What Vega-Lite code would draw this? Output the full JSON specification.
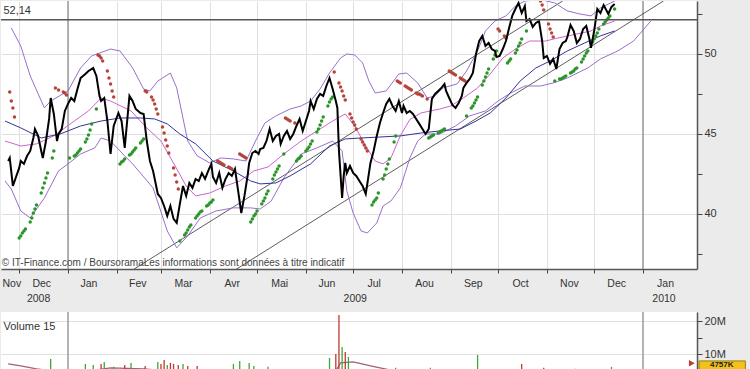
{
  "$schema": "https://vega.github.io/schema/vega-lite/v6.json",
  "background": "#ebebeb",
  "padding": {"left": 0, "top": 0, "right": 5, "bottom": 0},
  "spacing": 7,
  "config": {
    "view": {"stroke": null, "fill": "#ffffff"},
    "axis": {"labelFont": "Liberation Sans", "labelColor": "#333333", "title": null},
    "text": {"font": "Liberation Sans"}
  },
  "datasets": {
    "years": [{"d": "2009-01-01"}, {"d": "2010-01-01"}],
    "price": [
      {"d":"2008-11-24","v":43.31},{"d":"2008-11-25","v":43.5},{"d":"2008-11-27","v":41.75},{"d":"2008-12-01","v":42.88},
      {"d":"2008-12-02","v":43.31},{"d":"2008-12-04","v":43.13},{"d":"2008-12-06","v":43.62},{"d":"2008-12-08","v":43.94},
      {"d":"2008-12-10","v":44.75},{"d":"2008-12-11","v":45.31},{"d":"2008-12-13","v":44.88},{"d":"2008-12-15","v":43.94},
      {"d":"2008-12-16","v":43.5},{"d":"2008-12-18","v":44.56},{"d":"2008-12-20","v":45.94},{"d":"2008-12-21","v":47.25},
      {"d":"2008-12-23","v":46.25},{"d":"2008-12-25","v":44.56},{"d":"2008-12-26","v":45.0},{"d":"2008-12-28","v":45.31},
      {"d":"2008-12-30","v":46.44},{"d":"2009-01-01","v":46.88},{"d":"2009-01-03","v":47.25},{"d":"2009-01-05","v":47.06},
      {"d":"2009-01-07","v":47.81},{"d":"2009-01-09","v":48.5},{"d":"2009-01-12","v":48.75},{"d":"2009-01-14","v":48.94},
      {"d":"2009-01-17","v":49.12},{"d":"2009-01-19","v":48.63},{"d":"2009-01-21","v":47.38},{"d":"2009-01-22","v":47.06},
      {"d":"2009-01-24","v":47.25},{"d":"2009-01-26","v":45.81},{"d":"2009-01-28","v":43.75},{"d":"2009-01-30","v":45.5},
      {"d":"2009-02-02","v":46.31},{"d":"2009-02-04","v":45.81},{"d":"2009-02-06","v":44.13},{"d":"2009-02-09","v":47.38},
      {"d":"2009-02-11","v":47.06},{"d":"2009-02-13","v":46.56},{"d":"2009-02-16","v":46.31},{"d":"2009-02-18","v":46.25},
      {"d":"2009-02-20","v":44.56},{"d":"2009-02-22","v":43.31},{"d":"2009-02-24","v":42.69},{"d":"2009-02-27","v":41.25},
      {"d":"2009-03-01","v":41.0},{"d":"2009-03-03","v":40.5},{"d":"2009-03-05","v":39.88},{"d":"2009-03-07","v":40.5},
      {"d":"2009-03-09","v":39.69},{"d":"2009-03-11","v":39.44},{"d":"2009-03-13","v":40.63},{"d":"2009-03-15","v":41.75},
      {"d":"2009-03-17","v":41.13},{"d":"2009-03-19","v":41.94},{"d":"2009-03-21","v":41.63},{"d":"2009-03-23","v":42.19},
      {"d":"2009-03-25","v":42.06},{"d":"2009-03-27","v":42.56},{"d":"2009-03-29","v":42.19},{"d":"2009-03-31","v":42.69},
      {"d":"2009-04-02","v":43.13},{"d":"2009-04-03","v":42.31},{"d":"2009-04-05","v":41.94},{"d":"2009-04-07","v":42.56},
      {"d":"2009-04-09","v":41.63},{"d":"2009-04-11","v":42.19},{"d":"2009-04-13","v":42.56},{"d":"2009-04-15","v":42.38},
      {"d":"2009-04-17","v":42.81},{"d":"2009-04-19","v":41.44},{"d":"2009-04-21","v":40.06},{"d":"2009-04-23","v":41.13},
      {"d":"2009-04-25","v":42.38},{"d":"2009-04-26","v":43.19},{"d":"2009-04-28","v":43.81},{"d":"2009-04-30","v":43.94},
      {"d":"2009-05-02","v":43.75},{"d":"2009-05-03","v":44.06},{"d":"2009-05-05","v":44.13},{"d":"2009-05-07","v":44.56},
      {"d":"2009-05-09","v":45.31},{"d":"2009-05-11","v":44.56},{"d":"2009-05-13","v":44.88},{"d":"2009-05-15","v":45.0},
      {"d":"2009-05-16","v":44.38},{"d":"2009-05-18","v":44.88},{"d":"2009-05-20","v":45.19},{"d":"2009-05-22","v":44.69},
      {"d":"2009-05-24","v":45.0},{"d":"2009-05-26","v":45.5},{"d":"2009-05-28","v":45.94},{"d":"2009-05-30","v":45.19},
      {"d":"2009-06-01","v":45.81},{"d":"2009-06-03","v":46.44},{"d":"2009-06-04","v":47.06},{"d":"2009-06-06","v":46.56},
      {"d":"2009-06-08","v":47.19},{"d":"2009-06-10","v":47.5},{"d":"2009-06-12","v":47.38},{"d":"2009-06-14","v":48.0},
      {"d":"2009-06-16","v":48.5},{"d":"2009-06-18","v":47.81},{"d":"2009-06-20","v":47.06},{"d":"2009-06-21","v":46.63},
      {"d":"2009-06-22","v":43.94},{"d":"2009-06-24","v":41.0},{"d":"2009-06-25","v":42.38},{"d":"2009-06-26","v":43.19},
      {"d":"2009-06-27","v":42.56},{"d":"2009-06-29","v":43.0},{"d":"2009-07-01","v":42.56},{"d":"2009-07-03","v":42.38},
      {"d":"2009-07-05","v":42.06},{"d":"2009-07-07","v":41.75},{"d":"2009-07-09","v":41.25},{"d":"2009-07-10","v":41.88},
      {"d":"2009-07-12","v":43.19},{"d":"2009-07-14","v":43.94},{"d":"2009-07-16","v":44.88},{"d":"2009-07-18","v":45.69},
      {"d":"2009-07-20","v":46.31},{"d":"2009-07-22","v":46.88},{"d":"2009-07-24","v":47.19},{"d":"2009-07-26","v":46.75},
      {"d":"2009-07-28","v":46.44},{"d":"2009-07-30","v":47.06},{"d":"2009-08-01","v":46.31},{"d":"2009-08-02","v":46.75},
      {"d":"2009-08-04","v":46.31},{"d":"2009-08-06","v":46.44},{"d":"2009-08-08","v":46.25},{"d":"2009-08-10","v":45.94},
      {"d":"2009-08-12","v":45.63},{"d":"2009-08-14","v":45.31},{"d":"2009-08-16","v":45.0},{"d":"2009-08-18","v":45.31},
      {"d":"2009-08-20","v":47.19},{"d":"2009-08-22","v":47.5},{"d":"2009-08-24","v":47.69},{"d":"2009-08-26","v":47.88},
      {"d":"2009-08-28","v":48.13},{"d":"2009-08-29","v":47.69},{"d":"2009-08-31","v":47.25},{"d":"2009-09-02","v":46.81},
      {"d":"2009-09-04","v":46.63},{"d":"2009-09-06","v":46.94},{"d":"2009-09-08","v":47.38},{"d":"2009-09-09","v":47.88},
      {"d":"2009-09-11","v":48.19},{"d":"2009-09-13","v":48.44},{"d":"2009-09-15","v":48.81},{"d":"2009-09-17","v":50.0},
      {"d":"2009-09-19","v":50.81},{"d":"2009-09-21","v":51.13},{"d":"2009-09-23","v":50.5},{"d":"2009-09-25","v":50.69},
      {"d":"2009-09-27","v":50.31},{"d":"2009-09-29","v":50.19},{"d":"2009-09-30","v":49.81},{"d":"2009-10-02","v":49.88},
      {"d":"2009-10-04","v":50.31},{"d":"2009-10-06","v":50.81},{"d":"2009-10-08","v":51.63},{"d":"2009-10-10","v":52.38},
      {"d":"2009-10-12","v":52.81},{"d":"2009-10-14","v":53.19},{"d":"2009-10-16","v":52.56},{"d":"2009-10-18","v":53.0},
      {"d":"2009-10-19","v":52.06},{"d":"2009-10-21","v":52.19},{"d":"2009-10-23","v":51.69},{"d":"2009-10-25","v":51.94},
      {"d":"2009-10-27","v":52.06},{"d":"2009-10-29","v":50.81},{"d":"2009-10-30","v":49.75},{"d":"2009-11-01","v":49.88},
      {"d":"2009-11-03","v":49.38},{"d":"2009-11-05","v":49.69},{"d":"2009-11-07","v":49.06},{"d":"2009-11-09","v":50.31},
      {"d":"2009-11-11","v":50.69},{"d":"2009-11-13","v":50.81},{"d":"2009-11-14","v":51.06},{"d":"2009-11-16","v":51.81},
      {"d":"2009-11-18","v":51.44},{"d":"2009-11-20","v":50.69},{"d":"2009-11-22","v":50.94},{"d":"2009-11-24","v":51.56},
      {"d":"2009-11-26","v":51.75},{"d":"2009-11-28","v":50.94},{"d":"2009-11-29","v":50.38},{"d":"2009-12-01","v":51.44},
      {"d":"2009-12-03","v":52.81},{"d":"2009-12-05","v":52.56},{"d":"2009-12-07","v":53.06},{"d":"2009-12-09","v":52.69},
      {"d":"2009-12-10","v":52.5},{"d":"2009-12-12","v":52.94},{"d":"2009-12-14","v":53.13}
    ],
    "bands": [
      {"s":"up","d":"2008-11-26","v":51.63},{"s":"up","d":"2008-12-02","v":50.5},{"s":"up","d":"2008-12-08","v":48.63},{"s":"up","d":"2008-12-17","v":46.63},
      {"s":"up","d":"2008-12-21","v":47.06},{"s":"up","d":"2009-01-01","v":47.69},{"s":"up","d":"2009-01-09","v":49.13},{"s":"up","d":"2009-01-16","v":49.88},
      {"s":"up","d":"2009-01-28","v":50.31},{"s":"up","d":"2009-02-03","v":50.19},{"s":"up","d":"2009-02-11","v":49.13},{"s":"up","d":"2009-02-18","v":47.81},
      {"s":"up","d":"2009-02-22","v":47.69},{"s":"up","d":"2009-02-27","v":48.31},{"s":"up","d":"2009-03-07","v":48.81},{"s":"up","d":"2009-03-11","v":47.88},
      {"s":"up","d":"2009-03-18","v":44.56},{"s":"up","d":"2009-03-24","v":43.63},{"s":"up","d":"2009-04-01","v":43.19},{"s":"up","d":"2009-04-08","v":43.5},
      {"s":"up","d":"2009-04-16","v":43.44},{"s":"up","d":"2009-04-24","v":43.31},{"s":"up","d":"2009-04-30","v":44.56},{"s":"up","d":"2009-05-06","v":45.69},
      {"s":"up","d":"2009-05-13","v":46.13},{"s":"up","d":"2009-05-22","v":46.56},{"s":"up","d":"2009-05-29","v":46.75},{"s":"up","d":"2009-06-04","v":47.06},
      {"s":"up","d":"2009-06-10","v":47.81},{"s":"up","d":"2009-06-16","v":48.81},{"s":"up","d":"2009-06-23","v":49.75},{"s":"up","d":"2009-06-27","v":50.0},
      {"s":"up","d":"2009-07-02","v":49.94},{"s":"up","d":"2009-07-07","v":49.44},{"s":"up","d":"2009-07-11","v":48.31},{"s":"up","d":"2009-07-15","v":47.56},
      {"s":"up","d":"2009-07-22","v":47.69},{"s":"up","d":"2009-07-30","v":48.75},{"s":"up","d":"2009-08-04","v":48.81},{"s":"up","d":"2009-08-11","v":48.19},
      {"s":"up","d":"2009-08-17","v":47.25},{"s":"up","d":"2009-08-22","v":47.38},{"s":"up","d":"2009-08-27","v":47.88},{"s":"up","d":"2009-09-05","v":48.13},
      {"s":"up","d":"2009-09-11","v":48.94},{"s":"up","d":"2009-09-18","v":50.19},{"s":"up","d":"2009-09-23","v":51.44},{"s":"up","d":"2009-09-29","v":52.06},
      {"s":"up","d":"2009-10-06","v":52.38},{"s":"up","d":"2009-10-12","v":53.0},{"s":"up","d":"2009-10-18","v":53.31},{"s":"up","d":"2009-10-28","v":53.4},
      {"s":"up","d":"2009-11-06","v":53.19},{"s":"up","d":"2009-11-14","v":52.69},{"s":"up","d":"2009-11-22","v":52.5},{"s":"up","d":"2009-11-29","v":52.38},
      {"s":"up","d":"2009-12-05","v":52.88},{"s":"up","d":"2009-12-14","v":53.31},
      {"s":"lo","d":"2008-11-22","v":42.06},{"s":"lo","d":"2008-11-26","v":41.56},{"s":"lo","d":"2008-12-02","v":40.19},{"s":"lo","d":"2008-12-08","v":39.75},
      {"s":"lo","d":"2008-12-17","v":41.0},{"s":"lo","d":"2008-12-26","v":42.69},{"s":"lo","d":"2009-01-01","v":43.13},{"s":"lo","d":"2009-01-09","v":43.75},
      {"s":"lo","d":"2009-01-18","v":44.13},{"s":"lo","d":"2009-01-22","v":44.75},{"s":"lo","d":"2009-01-28","v":44.56},{"s":"lo","d":"2009-02-06","v":43.63},
      {"s":"lo","d":"2009-02-11","v":43.13},{"s":"lo","d":"2009-02-24","v":41.63},{"s":"lo","d":"2009-03-05","v":38.94},{"s":"lo","d":"2009-03-11","v":37.88},
      {"s":"lo","d":"2009-03-18","v":38.63},{"s":"lo","d":"2009-03-26","v":39.75},{"s":"lo","d":"2009-04-05","v":40.19},{"s":"lo","d":"2009-04-16","v":40.38},
      {"s":"lo","d":"2009-04-27","v":40.38},{"s":"lo","d":"2009-05-03","v":40.31},{"s":"lo","d":"2009-05-10","v":40.81},{"s":"lo","d":"2009-05-18","v":42.25},
      {"s":"lo","d":"2009-05-29","v":43.75},{"s":"lo","d":"2009-06-08","v":44.13},{"s":"lo","d":"2009-06-18","v":44.56},{"s":"lo","d":"2009-06-24","v":43.94},
      {"s":"lo","d":"2009-06-27","v":41.44},{"s":"lo","d":"2009-07-01","v":40.06},{"s":"lo","d":"2009-07-06","v":38.94},{"s":"lo","d":"2009-07-10","v":38.81},
      {"s":"lo","d":"2009-07-16","v":39.44},{"s":"lo","d":"2009-07-20","v":40.5},{"s":"lo","d":"2009-07-25","v":40.81},{"s":"lo","d":"2009-07-31","v":41.63},
      {"s":"lo","d":"2009-08-06","v":43.5},{"s":"lo","d":"2009-08-11","v":44.56},{"s":"lo","d":"2009-08-16","v":45.0},{"s":"lo","d":"2009-08-25","v":45.0},
      {"s":"lo","d":"2009-09-04","v":45.5},{"s":"lo","d":"2009-09-13","v":46.13},{"s":"lo","d":"2009-09-23","v":46.44},{"s":"lo","d":"2009-10-01","v":47.06},
      {"s":"lo","d":"2009-10-09","v":47.56},{"s":"lo","d":"2009-10-18","v":48.0},{"s":"lo","d":"2009-10-28","v":48.0},{"s":"lo","d":"2009-11-05","v":48.19},
      {"s":"lo","d":"2009-11-14","v":48.5},{"s":"lo","d":"2009-11-27","v":49.13},{"s":"lo","d":"2009-12-05","v":49.69},{"s":"lo","d":"2009-12-16","v":50.19},
      {"s":"lo","d":"2009-12-26","v":50.81},{"s":"lo","d":"2010-01-06","v":52.06},
      {"s":"sma","d":"2008-11-22","v":44.56},{"s":"sma","d":"2008-12-02","v":44.25},{"s":"sma","d":"2008-12-12","v":44.38},{"s":"sma","d":"2008-12-23","v":44.88},
      {"s":"sma","d":"2009-01-05","v":45.81},{"s":"sma","d":"2009-01-14","v":46.44},{"s":"sma","d":"2009-01-22","v":47.25},{"s":"sma","d":"2009-01-28","v":47.06},
      {"s":"sma","d":"2009-02-10","v":46.44},{"s":"sma","d":"2009-02-20","v":45.38},{"s":"sma","d":"2009-03-01","v":44.56},{"s":"sma","d":"2009-03-10","v":43.0},
      {"s":"sma","d":"2009-03-17","v":41.75},{"s":"sma","d":"2009-03-23","v":41.13},{"s":"sma","d":"2009-04-01","v":41.31},{"s":"sma","d":"2009-04-11","v":41.75},
      {"s":"sma","d":"2009-04-20","v":42.06},{"s":"sma","d":"2009-04-29","v":42.69},{"s":"sma","d":"2009-05-08","v":42.94},{"s":"sma","d":"2009-05-18","v":43.75},
      {"s":"sma","d":"2009-05-29","v":44.56},{"s":"sma","d":"2009-06-08","v":45.19},{"s":"sma","d":"2009-06-18","v":45.81},{"s":"sma","d":"2009-06-26","v":46.25},
      {"s":"sma","d":"2009-07-02","v":45.5},{"s":"sma","d":"2009-07-09","v":44.25},{"s":"sma","d":"2009-07-15","v":43.31},{"s":"sma","d":"2009-07-20","v":43.13},
      {"s":"sma","d":"2009-07-25","v":43.5},{"s":"sma","d":"2009-07-31","v":44.9},{"s":"sma","d":"2009-08-06","v":45.9},{"s":"sma","d":"2009-08-13","v":46.31},
      {"s":"sma","d":"2009-08-19","v":46.44},{"s":"sma","d":"2009-08-25","v":46.56},{"s":"sma","d":"2009-09-01","v":46.75},{"s":"sma","d":"2009-09-09","v":47.25},
      {"s":"sma","d":"2009-09-18","v":47.88},{"s":"sma","d":"2009-09-26","v":48.75},{"s":"sma","d":"2009-10-04","v":49.75},{"s":"sma","d":"2009-10-13","v":50.38},
      {"s":"sma","d":"2009-10-21","v":50.81},{"s":"sma","d":"2009-10-31","v":50.81},{"s":"sma","d":"2009-11-08","v":51.0},{"s":"sma","d":"2009-11-20","v":51.25},
      {"s":"sma","d":"2009-11-29","v":51.44},{"s":"sma","d":"2009-12-05","v":51.75},{"s":"sma","d":"2009-12-14","v":52.06},
      {"s":"ma","d":"2008-11-22","v":45.81},{"s":"ma","d":"2008-12-02","v":45.38},{"s":"ma","d":"2008-12-15","v":44.75},{"s":"ma","d":"2008-12-27","v":45.0},
      {"s":"ma","d":"2009-01-09","v":45.5},{"s":"ma","d":"2009-01-22","v":45.81},{"s":"ma","d":"2009-02-03","v":46.0},{"s":"ma","d":"2009-02-16","v":46.0},
      {"s":"ma","d":"2009-02-25","v":45.94},{"s":"ma","d":"2009-03-05","v":45.63},{"s":"ma","d":"2009-03-13","v":45.0},{"s":"ma","d":"2009-03-23","v":44.38},
      {"s":"ma","d":"2009-04-03","v":43.31},{"s":"ma","d":"2009-04-16","v":42.69},{"s":"ma","d":"2009-04-27","v":42.06},{"s":"ma","d":"2009-05-03","v":41.88},
      {"s":"ma","d":"2009-05-13","v":41.94},{"s":"ma","d":"2009-05-22","v":42.38},{"s":"ma","d":"2009-06-04","v":43.13},{"s":"ma","d":"2009-06-16","v":44.25},
      {"s":"ma","d":"2009-06-26","v":44.69},{"s":"ma","d":"2009-07-06","v":44.75},{"s":"ma","d":"2009-07-18","v":44.81},{"s":"ma","d":"2009-07-31","v":44.88},
      {"s":"ma","d":"2009-08-13","v":45.06},{"s":"ma","d":"2009-08-25","v":45.19},{"s":"ma","d":"2009-09-07","v":45.31},{"s":"ma","d":"2009-09-17","v":45.81},
      {"s":"ma","d":"2009-09-26","v":46.31},{"s":"ma","d":"2009-10-06","v":47.25},{"s":"ma","d":"2009-10-15","v":48.31},{"s":"ma","d":"2009-10-25","v":49.13},
      {"s":"ma","d":"2009-11-03","v":49.56},{"s":"ma","d":"2009-11-14","v":50.19},{"s":"ma","d":"2009-11-25","v":50.69},{"s":"ma","d":"2009-12-05","v":51.13},
      {"s":"ma","d":"2009-12-14","v":51.44}
    ],
    "trend": [
      {"s":"L1","d":"2009-02-12","v":36.56},{"s":"L1","d":"2009-11-11","v":53.3125},
      {"s":"L2","d":"2009-04-18","v":36.56},{"s":"L2","d":"2010-01-14","v":53.3125}
    ],
    "sar": [
      {"c":"r","d":"2008-11-25","v":47.63},{"c":"r","d":"2008-11-26","v":47.06},{"c":"r","d":"2008-11-27","v":46.63},{"c":"r","d":"2008-11-28","v":46.06},
      {"c":"g","d":"2008-12-01","v":38.5},{"c":"g","d":"2008-12-02","v":38.63},{"c":"g","d":"2008-12-03","v":38.81},{"c":"g","d":"2008-12-04","v":38.94},
      {"c":"g","d":"2008-12-05","v":39.06},{"c":"g","d":"2008-12-08","v":39.5},{"c":"g","d":"2008-12-09","v":39.75},{"c":"g","d":"2008-12-10","v":40.06},
      {"c":"g","d":"2008-12-11","v":40.31},{"c":"g","d":"2008-12-12","v":40.56},{"c":"g","d":"2008-12-15","v":41.31},{"c":"g","d":"2008-12-16","v":41.63},
      {"c":"g","d":"2008-12-17","v":41.94},{"c":"g","d":"2008-12-18","v":42.25},{"c":"g","d":"2008-12-19","v":42.56},{"c":"g","d":"2008-12-22","v":43.5},
      {"c":"g","d":"2008-12-23","v":43.94},
      {"c":"r","d":"2008-12-24","v":47.88},{"c":"r","d":"2008-12-26","v":47.75},{"c":"r","d":"2008-12-29","v":47.63},{"c":"r","d":"2008-12-30","v":47.56},
      {"c":"r","d":"2008-12-31","v":47.44},
      {"c":"g","d":"2009-01-02","v":43.5},{"c":"g","d":"2009-01-05","v":43.63},{"c":"g","d":"2009-01-06","v":43.69},{"c":"g","d":"2009-01-07","v":43.81},
      {"c":"g","d":"2009-01-08","v":43.94},{"c":"g","d":"2009-01-09","v":44.06},{"c":"g","d":"2009-01-12","v":44.5},{"c":"g","d":"2009-01-13","v":44.69},
      {"c":"g","d":"2009-01-14","v":44.94},{"c":"g","d":"2009-01-15","v":45.25},{"c":"g","d":"2009-01-16","v":45.63},{"c":"g","d":"2009-01-19","v":46.56},
      {"c":"r","d":"2009-01-20","v":49.94},{"c":"r","d":"2009-01-21","v":49.88},{"c":"r","d":"2009-01-22","v":49.75},{"c":"r","d":"2009-01-23","v":49.56},
      {"c":"r","d":"2009-01-26","v":48.94},{"c":"r","d":"2009-01-27","v":48.5},{"c":"r","d":"2009-01-28","v":48.13},{"c":"r","d":"2009-01-29","v":47.69},
      {"c":"r","d":"2009-01-30","v":47.31},
      {"c":"g","d":"2009-02-03","v":43.13},{"c":"g","d":"2009-02-04","v":43.25},{"c":"g","d":"2009-02-05","v":43.31},{"c":"g","d":"2009-02-06","v":43.44},
      {"c":"g","d":"2009-02-09","v":43.69},{"c":"g","d":"2009-02-10","v":43.75},{"c":"g","d":"2009-02-11","v":43.88},{"c":"g","d":"2009-02-12","v":44.0},
      {"c":"g","d":"2009-02-13","v":44.13},{"c":"g","d":"2009-02-16","v":44.44},{"c":"g","d":"2009-02-17","v":44.56},{"c":"g","d":"2009-02-18","v":44.69},
      {"c":"r","d":"2009-02-19","v":47.69},{"c":"r","d":"2009-02-20","v":47.63},{"c":"r","d":"2009-02-23","v":47.31},{"c":"r","d":"2009-02-24","v":47.13},
      {"c":"r","d":"2009-02-25","v":46.88},{"c":"r","d":"2009-02-26","v":46.56},{"c":"r","d":"2009-02-27","v":46.25},{"c":"r","d":"2009-03-02","v":45.44},
      {"c":"r","d":"2009-03-03","v":45.06},{"c":"r","d":"2009-03-04","v":44.63},{"c":"r","d":"2009-03-05","v":44.25},{"c":"r","d":"2009-03-06","v":43.81},
      {"c":"r","d":"2009-03-09","v":42.88},{"c":"r","d":"2009-03-10","v":42.44},{"c":"r","d":"2009-03-11","v":42.0},{"c":"r","d":"2009-03-12","v":41.56},
      {"c":"g","d":"2009-03-13","v":38.31},{"c":"g","d":"2009-03-16","v":38.69},{"c":"g","d":"2009-03-17","v":38.81},{"c":"g","d":"2009-03-18","v":39.0},
      {"c":"g","d":"2009-03-19","v":39.19},{"c":"g","d":"2009-03-20","v":39.31},{"c":"g","d":"2009-03-23","v":39.75},{"c":"g","d":"2009-03-24","v":39.88},
      {"c":"g","d":"2009-03-25","v":40.0},{"c":"g","d":"2009-03-26","v":40.13},{"c":"g","d":"2009-03-27","v":40.19},{"c":"g","d":"2009-03-30","v":40.5},
      {"c":"g","d":"2009-03-31","v":40.56},{"c":"g","d":"2009-04-01","v":40.69},{"c":"g","d":"2009-04-02","v":40.75},{"c":"g","d":"2009-04-03","v":40.88},
      {"c":"r","d":"2009-04-06","v":43.31},{"c":"r","d":"2009-04-07","v":43.25},{"c":"r","d":"2009-04-08","v":43.19},{"c":"r","d":"2009-04-09","v":43.13},
      {"c":"r","d":"2009-04-10","v":43.06},{"c":"r","d":"2009-04-13","v":42.94},{"c":"r","d":"2009-04-14","v":42.88},{"c":"r","d":"2009-04-15","v":42.81},
      {"c":"r","d":"2009-04-20","v":43.75},{"c":"r","d":"2009-04-21","v":43.69},{"c":"r","d":"2009-04-22","v":43.63},{"c":"r","d":"2009-04-23","v":43.56},
      {"c":"r","d":"2009-04-24","v":43.5},
      {"c":"g","d":"2009-04-27","v":39.5},{"c":"g","d":"2009-04-28","v":39.69},{"c":"g","d":"2009-04-29","v":39.88},{"c":"g","d":"2009-04-30","v":40.0},
      {"c":"g","d":"2009-05-01","v":40.19},{"c":"g","d":"2009-05-04","v":40.63},{"c":"g","d":"2009-05-05","v":40.81},{"c":"g","d":"2009-05-06","v":41.0},
      {"c":"g","d":"2009-05-07","v":41.25},{"c":"g","d":"2009-05-08","v":41.44},{"c":"g","d":"2009-05-11","v":42.19},{"c":"g","d":"2009-05-12","v":42.44},
      {"c":"g","d":"2009-05-13","v":42.63},{"c":"g","d":"2009-05-14","v":42.81},{"c":"g","d":"2009-05-15","v":43.0},{"c":"g","d":"2009-05-18","v":43.75},
      {"c":"r","d":"2009-05-19","v":46.0},{"c":"r","d":"2009-05-20","v":45.94},{"c":"r","d":"2009-05-21","v":45.88},{"c":"r","d":"2009-05-22","v":45.81},
      {"c":"r","d":"2009-05-25","v":45.69},
      {"c":"g","d":"2009-05-26","v":43.31},{"c":"g","d":"2009-05-27","v":43.44},{"c":"g","d":"2009-05-28","v":43.5},{"c":"g","d":"2009-05-29","v":43.63},
      {"c":"g","d":"2009-06-01","v":43.94},{"c":"g","d":"2009-06-02","v":44.06},{"c":"g","d":"2009-06-03","v":44.19},{"c":"g","d":"2009-06-04","v":44.38},
      {"c":"g","d":"2009-06-05","v":44.56},{"c":"g","d":"2009-06-08","v":45.13},{"c":"g","d":"2009-06-09","v":45.31},{"c":"g","d":"2009-06-10","v":45.56},
      {"c":"g","d":"2009-06-11","v":45.81},{"c":"g","d":"2009-06-12","v":46.06},{"c":"g","d":"2009-06-15","v":46.75},{"c":"g","d":"2009-06-16","v":47.0},
      {"c":"g","d":"2009-06-17","v":47.19},{"c":"g","d":"2009-06-18","v":47.31},
      {"c":"r","d":"2009-06-19","v":48.88},{"c":"r","d":"2009-06-22","v":48.19},{"c":"r","d":"2009-06-23","v":47.94},{"c":"r","d":"2009-06-24","v":47.69},
      {"c":"r","d":"2009-06-25","v":47.38},{"c":"r","d":"2009-06-26","v":47.13},{"c":"r","d":"2009-06-29","v":46.25},{"c":"r","d":"2009-06-30","v":46.0},
      {"c":"r","d":"2009-07-01","v":45.75},{"c":"r","d":"2009-07-02","v":45.56},{"c":"r","d":"2009-07-03","v":45.31},{"c":"r","d":"2009-07-06","v":44.69},
      {"c":"r","d":"2009-07-07","v":44.5},{"c":"r","d":"2009-07-08","v":44.31},{"c":"r","d":"2009-07-09","v":44.13},{"c":"r","d":"2009-07-10","v":43.94},
      {"c":"g","d":"2009-07-13","v":40.56},{"c":"g","d":"2009-07-14","v":40.75},{"c":"g","d":"2009-07-15","v":40.88},{"c":"g","d":"2009-07-16","v":41.0},
      {"c":"g","d":"2009-07-17","v":41.31},{"c":"g","d":"2009-07-20","v":42.19},{"c":"g","d":"2009-07-21","v":42.44},{"c":"g","d":"2009-07-22","v":42.81},
      {"c":"g","d":"2009-07-23","v":43.13},{"c":"g","d":"2009-07-24","v":43.44},{"c":"g","d":"2009-07-27","v":44.5},{"c":"g","d":"2009-07-28","v":44.88},
      {"c":"r","d":"2009-07-29","v":48.31},{"c":"r","d":"2009-07-30","v":48.25},{"c":"r","d":"2009-07-31","v":48.19},{"c":"r","d":"2009-08-03","v":48.0},
      {"c":"r","d":"2009-08-04","v":47.94},{"c":"r","d":"2009-08-05","v":47.88},{"c":"r","d":"2009-08-06","v":47.81},{"c":"r","d":"2009-08-07","v":47.75},
      {"c":"r","d":"2009-08-10","v":47.56},{"c":"r","d":"2009-08-11","v":47.5},{"c":"r","d":"2009-08-12","v":47.5},{"c":"r","d":"2009-08-13","v":47.44},
      {"c":"r","d":"2009-08-14","v":47.38},{"c":"r","d":"2009-08-17","v":47.19},
      {"c":"g","d":"2009-08-18","v":44.75},{"c":"g","d":"2009-08-19","v":44.81},{"c":"g","d":"2009-08-20","v":44.88},{"c":"g","d":"2009-08-21","v":44.94},
      {"c":"g","d":"2009-08-24","v":45.06},{"c":"g","d":"2009-08-25","v":45.13},{"c":"g","d":"2009-08-26","v":45.19},{"c":"g","d":"2009-08-27","v":45.25},
      {"c":"g","d":"2009-08-28","v":45.31},
      {"c":"r","d":"2009-08-31","v":48.94},{"c":"r","d":"2009-09-01","v":48.88},{"c":"r","d":"2009-09-02","v":48.81},{"c":"r","d":"2009-09-03","v":48.75},
      {"c":"r","d":"2009-09-04","v":48.69},{"c":"r","d":"2009-09-07","v":48.5},{"c":"r","d":"2009-09-08","v":48.44},{"c":"r","d":"2009-09-09","v":48.38},
      {"c":"r","d":"2009-09-10","v":48.31},
      {"c":"g","d":"2009-09-11","v":46.13},{"c":"g","d":"2009-09-14","v":46.63},{"c":"g","d":"2009-09-15","v":46.75},{"c":"g","d":"2009-09-16","v":46.94},
      {"c":"g","d":"2009-09-17","v":47.13},{"c":"g","d":"2009-09-18","v":47.31},{"c":"g","d":"2009-09-21","v":48.06},{"c":"g","d":"2009-09-22","v":48.31},
      {"c":"g","d":"2009-09-23","v":48.56},{"c":"g","d":"2009-09-24","v":48.81},{"c":"g","d":"2009-09-25","v":49.06},{"c":"g","d":"2009-09-28","v":49.69},
      {"c":"g","d":"2009-09-29","v":49.94},{"c":"g","d":"2009-09-30","v":50.19},
      {"c":"r","d":"2009-10-01","v":51.56},{"c":"r","d":"2009-10-02","v":51.44},{"c":"r","d":"2009-10-05","v":51.13},{"c":"r","d":"2009-10-06","v":51.0},
      {"c":"g","d":"2009-10-07","v":49.44},{"c":"g","d":"2009-10-08","v":49.56},{"c":"g","d":"2009-10-09","v":49.69},{"c":"g","d":"2009-10-12","v":50.06},
      {"c":"g","d":"2009-10-13","v":50.25},{"c":"g","d":"2009-10-14","v":50.5},{"c":"g","d":"2009-10-15","v":50.69},{"c":"g","d":"2009-10-16","v":50.94},
      {"c":"g","d":"2009-10-19","v":51.44},
      {"c":"r","d":"2009-10-28","v":53.31},{"c":"r","d":"2009-10-29","v":53.06},{"c":"r","d":"2009-10-30","v":52.75},{"c":"r","d":"2009-11-02","v":51.88},
      {"c":"r","d":"2009-11-03","v":51.56},{"c":"r","d":"2009-11-04","v":51.31},{"c":"r","d":"2009-11-05","v":51.06},
      {"c":"g","d":"2009-11-06","v":48.31},{"c":"g","d":"2009-11-09","v":48.44},{"c":"g","d":"2009-11-10","v":48.44},{"c":"g","d":"2009-11-11","v":48.5},
      {"c":"g","d":"2009-11-12","v":48.56},{"c":"g","d":"2009-11-13","v":48.63},{"c":"g","d":"2009-11-16","v":48.81},{"c":"g","d":"2009-11-17","v":48.88},
      {"c":"g","d":"2009-11-18","v":48.94},{"c":"g","d":"2009-11-19","v":49.06},{"c":"g","d":"2009-11-20","v":49.13},{"c":"g","d":"2009-11-23","v":49.5},
      {"c":"g","d":"2009-11-24","v":49.69},{"c":"g","d":"2009-11-25","v":49.88},{"c":"g","d":"2009-11-26","v":50.06},{"c":"g","d":"2009-11-27","v":50.19},
      {"c":"g","d":"2009-11-30","v":50.75},{"c":"g","d":"2009-12-01","v":50.94},{"c":"g","d":"2009-12-02","v":51.13},{"c":"g","d":"2009-12-03","v":51.31},
      {"c":"g","d":"2009-12-04","v":51.56},{"c":"g","d":"2009-12-07","v":51.88},{"c":"g","d":"2009-12-08","v":52.0},{"c":"g","d":"2009-12-09","v":52.13},
      {"c":"g","d":"2009-12-10","v":52.25},{"c":"g","d":"2009-12-11","v":52.38},{"c":"g","d":"2009-12-14","v":52.81}
    ],
    "level": [{"d":"2008-11-21","v":52.69,"t":"52,14"}],
    "credits": [
      {"d":"2008-11-20","v":36.94,"t":"© IT-Finance.com / Boursorama"},
      {"d":"2009-02-18","v":36.94,"t":"Les informations sont données à titre indicatif"}
    ],
    "vol": [
      {"d":"2008-12-21","vol":8500000,"c":"g"},{"d":"2009-01-12","vol":7000000,"c":"g"},{"d":"2009-01-17","vol":6700000,"c":"g"},
      {"d":"2009-01-22","vol":7000000,"c":"r"},{"d":"2009-01-24","vol":7600000,"c":"g"},{"d":"2009-01-30","vol":6100000,"c":"g"},
      {"d":"2009-02-06","vol":6700000,"c":"r"},{"d":"2009-02-10","vol":7300000,"c":"g"},{"d":"2009-02-19","vol":6400000,"c":"r"},
      {"d":"2009-02-27","vol":7600000,"c":"g"},{"d":"2009-03-01","vol":7000000,"c":"r"},{"d":"2009-03-03","vol":8200000,"c":"r"},
      {"d":"2009-03-05","vol":6700000,"c":"g"},{"d":"2009-03-07","vol":7300000,"c":"r"},{"d":"2009-03-09","vol":7000000,"c":"r"},
      {"d":"2009-03-12","vol":6700000,"c":"r"},{"d":"2009-03-15","vol":7000000,"c":"g"},{"d":"2009-03-18","vol":6400000,"c":"r"},
      {"d":"2009-03-24","vol":6400000,"c":"r"},{"d":"2009-04-16","vol":7000000,"c":"g"},{"d":"2009-04-20","vol":7900000,"c":"g"},
      {"d":"2009-04-26","vol":7300000,"c":"g"},{"d":"2009-04-29","vol":6400000,"c":"g"},{"d":"2009-05-08","vol":6100000,"c":"g"},
      {"d":"2009-06-16","vol":8800000,"c":"g"},{"d":"2009-06-20","vol":10000000,"c":"r"},{"d":"2009-06-22","vol":21800000,"c":"r"},
      {"d":"2009-06-24","vol":12100000,"c":"g"},{"d":"2009-06-26","vol":10600000,"c":"r"},{"d":"2009-06-28","vol":9100000,"c":"g"},
      {"d":"2009-07-28","vol":5800000,"c":"g"},{"d":"2009-08-19","vol":5800000,"c":"g"},{"d":"2009-09-02","vol":5200000,"c":"g"},
      {"d":"2009-09-18","vol":9700000,"c":"g"},{"d":"2009-10-03","vol":5200000,"c":"r"},{"d":"2009-10-16","vol":7000000,"c":"r"},
      {"d":"2009-10-30","vol":5800000,"c":"r"},{"d":"2009-11-19","vol":5500000,"c":"g"},{"d":"2009-12-08","vol":5200000,"c":"r"},
      {"d":"2009-12-12","vol":6100000,"c":"g"}
    ],
    "volma": [
      {"d":"2008-11-24","vol":7000000},{"d":"2008-12-02","vol":6400000},{"d":"2008-12-12","vol":5500000},{"d":"2008-12-23","vol":4800000},
      {"d":"2009-01-09","vol":4500000},{"d":"2009-01-28","vol":5800000},{"d":"2009-02-18","vol":5500000},{"d":"2009-03-07","vol":4800000},
      {"d":"2009-03-26","vol":4500000},{"d":"2009-04-27","vol":4200000},{"d":"2009-05-29","vol":4200000},{"d":"2009-06-20","vol":4800000},
      {"d":"2009-06-23","vol":7300000},{"d":"2009-07-01","vol":7600000},{"d":"2009-07-15","vol":6100000},{"d":"2009-07-28","vol":4800000},
      {"d":"2009-08-19","vol":4200000},{"d":"2009-09-20","vol":4200000},{"d":"2009-10-21","vol":4500000},{"d":"2009-11-22","vol":4200000},
      {"d":"2009-12-14","vol":4500000}
    ],
    "vlabel": [{"d":"2008-11-21","vol":18200000,"t":"Volume 15"}],
    "last": [{"vol":4757000,"t":"4757K"}]
  },
  "vconcat": [
    {
      "width": 696,
      "height": 268,
      "resolve": {"axis": {"x": "independent", "y": "independent"}},
      "layer": [
        {
          "data": {"name": "years"},
          "mark": {"type": "rule", "color": "#9a9a9a", "strokeWidth": 1.5},
          "encoding": {
            "x": {"field": "d", "type": "temporal",
              "scale": {"domain": [{"year":2008,"month":11,"date":19,"hours":11,"utc":true},{"year":2010,"month":2,"date":4,"hours":7,"utc":true}]},
              "axis": {"orient": "bottom", "labels": false, "ticks": true, "tickSize": 4, "tickColor": "#444444",
                "grid": true, "gridColor": "#e0e0e0", "domain": true, "domainColor": "#555555", "domainWidth": 1.5,
                "values": [{"year":2008,"month":12,"date":1,"utc":true},{"year":2009,"month":1,"date":1,"utc":true},{"year":2009,"month":2,"date":1,"utc":true},
                  {"year":2009,"month":3,"date":1,"utc":true},{"year":2009,"month":4,"date":1,"utc":true},{"year":2009,"month":5,"date":1,"utc":true},
                  {"year":2009,"month":6,"date":1,"utc":true},{"year":2009,"month":7,"date":1,"utc":true},{"year":2009,"month":8,"date":1,"utc":true},
                  {"year":2009,"month":9,"date":1,"utc":true},{"year":2009,"month":10,"date":1,"utc":true},{"year":2009,"month":11,"date":1,"utc":true},
                  {"year":2009,"month":12,"date":1,"utc":true},{"year":2010,"month":1,"date":1,"utc":true}]}}
          }
        },
        {
          "data": {"name": "trend"},
          "mark": {"type": "line", "color": "#333333", "strokeWidth": 0.8, "clip": true},
          "encoding": {
            "x": {"field": "d", "type": "temporal",
              "scale": {"domain": [{"year":2008,"month":11,"date":19,"hours":11,"utc":true},{"year":2010,"month":2,"date":4,"hours":7,"utc":true}]},
              "axis": {"orient": "bottom", "ticks": false, "grid": false, "domain": false, "labelPadding": 24, "labelFontSize": 10.5,
                "labelFlush": false, "labelOverlap": false, "labelExpr": "utcyear(datum.value) + ''",
                "values": [{"year":2008,"month":12,"date":13,"utc":true},{"year":2009,"month":7,"date":2,"utc":true},{"year":2010,"month":1,"date":14,"utc":true}]}},
            "y": {"field": "v", "type": "quantitative", "scale": {"domain": [36.56, 53.3125], "nice": false, "zero": false},
              "axis": {"orient": "right", "values": [40, 45, 50], "labels": false, "ticks": false, "domain": false, "grid": true, "gridColor": "#e0e0e0"}},
            "detail": {"field": "s"}
          }
        },
        {
          "data": {"name": "bands"},
          "mark": {"type": "line", "strokeWidth": 1, "clip": true},
          "encoding": {
            "x": {"field": "d", "type": "temporal",
              "scale": {"domain": [{"year":2008,"month":11,"date":19,"hours":11,"utc":true},{"year":2010,"month":2,"date":4,"hours":7,"utc":true}]},
              "axis": {"orient": "bottom", "ticks": false, "grid": false, "domain": false, "labelPadding": 9, "labelFontSize": 10.5,
                "labelFlush": false, "labelOverlap": false,
                "labelExpr": "['Jan','Fev','Mar','Avr','Mai','Jun','Jul','Aou','Sep','Oct','Nov','Dec'][utcmonth(datum.value)]",
                "values": [{"year":2008,"month":11,"date":26,"utc":true},{"year":2008,"month":12,"date":15,"utc":true},{"year":2009,"month":1,"date":14,"utc":true},
                  {"year":2009,"month":2,"date":14,"utc":true},{"year":2009,"month":3,"date":15,"utc":true},{"year":2009,"month":4,"date":15,"utc":true},
                  {"year":2009,"month":5,"date":15,"utc":true},{"year":2009,"month":6,"date":14,"utc":true},{"year":2009,"month":7,"date":14,"utc":true},
                  {"year":2009,"month":8,"date":15,"utc":true},{"year":2009,"month":9,"date":15,"utc":true},{"year":2009,"month":10,"date":15,"utc":true},
                  {"year":2009,"month":11,"date":15,"utc":true},{"year":2009,"month":12,"date":15,"utc":true},{"year":2010,"month":1,"date":15,"utc":true}]}},
            "y": {"field": "v", "type": "quantitative", "scale": {"domain": [36.56, 53.3125], "nice": false, "zero": false}, "axis": null},
            "stroke": {"field": "s", "type": "nominal", "scale": {"domain": ["up", "lo", "sma", "ma"], "range": ["#9a6fcc", "#9a6fcc", "#cc66cc", "#33339a"]}, "legend": null}
          }
        },
        {
          "data": {"name": "sar"},
          "mark": {"type": "circle", "size": 12, "opacity": 1, "clip": true},
          "encoding": {
            "x": {"field": "d", "type": "temporal",
              "scale": {"domain": [{"year":2008,"month":11,"date":19,"hours":11,"utc":true},{"year":2010,"month":2,"date":4,"hours":7,"utc":true}]}, "axis": null},
            "y": {"field": "v", "type": "quantitative", "scale": {"domain": [36.56, 53.3125], "nice": false, "zero": false}, "axis": null},
            "fill": {"field": "c", "type": "nominal", "scale": {"domain": ["g", "r"], "range": ["#2a962a", "#b5443a"]}, "legend": null}
          }
        },
        {
          "data": {"name": "price"},
          "mark": {"type": "line", "color": "#000000", "strokeWidth": 2, "clip": true},
          "encoding": {
            "x": {"field": "d", "type": "temporal",
              "scale": {"domain": [{"year":2008,"month":11,"date":19,"hours":11,"utc":true},{"year":2010,"month":2,"date":4,"hours":7,"utc":true}]}, "axis": null},
            "y": {"field": "v", "type": "quantitative", "scale": {"domain": [36.56, 53.3125], "nice": false, "zero": false},
              "axis": {"orient": "right", "values": [37.5, 40, 42.5, 45, 47.5, 50, 52.5],
                "labelExpr": "datum.value % 5 === 0 ? format(datum.value, 'd') : ''",
                "tickSize": 5, "tickColor": "#444444", "labelPadding": 2, "labelFontSize": 11, "grid": false,
                "domain": true, "domainColor": "#555555", "domainWidth": 1.5}}
          }
        },
        {
          "data": {"values": [{}]},
          "mark": {"type": "rule", "color": "#555555", "strokeWidth": 1.5},
          "encoding": {"y": {"datum": 52.14, "type": "quantitative", "axis": null}}
        },
        {
          "data": {"name": "level"},
          "mark": {"type": "text", "align": "left", "baseline": "middle", "fontSize": 11, "color": "#333333"},
          "encoding": {
            "x": {"field": "d", "type": "temporal",
              "scale": {"domain": [{"year":2008,"month":11,"date":19,"hours":11,"utc":true},{"year":2010,"month":2,"date":4,"hours":7,"utc":true}]}, "axis": null},
            "y": {"field": "v", "type": "quantitative", "axis": null},
            "text": {"field": "t"}
          }
        },
        {
          "data": {"name": "credits"},
          "mark": {"type": "text", "align": "left", "baseline": "middle", "fontSize": 10, "color": "#444444"},
          "encoding": {
            "x": {"field": "d", "type": "temporal",
              "scale": {"domain": [{"year":2008,"month":11,"date":19,"hours":11,"utc":true},{"year":2010,"month":2,"date":4,"hours":7,"utc":true}]}, "axis": null},
            "y": {"field": "v", "type": "quantitative", "axis": null},
            "text": {"field": "t"}
          }
        }
      ]
    },
    {
      "width": 696,
      "height": 75,
      "resolve": {"axis": {"y": "independent"}},
      "layer": [
        {
          "data": {"name": "years"},
          "mark": {"type": "rule", "color": "#9a9a9a", "strokeWidth": 1.5},
          "encoding": {
            "x": {"field": "d", "type": "temporal",
              "scale": {"domain": [{"year":2008,"month":11,"date":19,"hours":11,"utc":true},{"year":2010,"month":2,"date":4,"hours":7,"utc":true}]},
              "axis": {"orient": "bottom", "labels": false, "ticks": false, "domain": false, "grid": true, "gridColor": "#e0e0e0",
                "values": [{"year":2008,"month":12,"date":1,"utc":true},{"year":2009,"month":1,"date":1,"utc":true},{"year":2009,"month":2,"date":1,"utc":true},
                  {"year":2009,"month":3,"date":1,"utc":true},{"year":2009,"month":4,"date":1,"utc":true},{"year":2009,"month":5,"date":1,"utc":true},
                  {"year":2009,"month":6,"date":1,"utc":true},{"year":2009,"month":7,"date":1,"utc":true},{"year":2009,"month":8,"date":1,"utc":true},
                  {"year":2009,"month":9,"date":1,"utc":true},{"year":2009,"month":10,"date":1,"utc":true},{"year":2009,"month":11,"date":1,"utc":true},
                  {"year":2009,"month":12,"date":1,"utc":true},{"year":2010,"month":1,"date":1,"utc":true}]}}
          }
        },
        {
          "data": {"name": "volma"},
          "mark": {"type": "line", "color": "#a0607a", "strokeWidth": 1.2},
          "encoding": {
            "x": {"field": "d", "type": "temporal",
              "scale": {"domain": [{"year":2008,"month":11,"date":19,"hours":11,"utc":true},{"year":2010,"month":2,"date":4,"hours":7,"utc":true}]}, "axis": null},
            "y": {"field": "vol", "type": "quantitative", "scale": {"domain": [0, 22730000], "nice": false},
              "axis": {"orient": "right", "values": [10000000, 20000000], "labels": false, "ticks": false, "domain": false, "grid": true, "gridColor": "#e0e0e0"}}
          }
        },
        {
          "data": {"name": "vol"},
          "mark": {"type": "rule", "strokeWidth": 1.3},
          "encoding": {
            "x": {"field": "d", "type": "temporal",
              "scale": {"domain": [{"year":2008,"month":11,"date":19,"hours":11,"utc":true},{"year":2010,"month":2,"date":4,"hours":7,"utc":true}]}, "axis": null},
            "y": {"field": "vol", "type": "quantitative", "scale": {"domain": [0, 22730000], "nice": false},
              "axis": {"orient": "right", "values": [5000000, 10000000, 15000000, 20000000],
                "labelExpr": "datum.value % 10000000 === 0 ? (datum.value / 1000000) + 'M' : ''",
                "tickSize": 5, "tickColor": "#444444", "labelPadding": 2, "labelFontSize": 11, "grid": false,
                "domain": true, "domainColor": "#555555", "domainWidth": 1.5}},
            "y2": {"datum": 0},
            "color": {"field": "c", "type": "nominal", "scale": {"domain": ["g", "r"], "range": ["#3aa83a", "#c0392b"]}, "legend": null}
          }
        },
        {
          "data": {"name": "vlabel"},
          "mark": {"type": "text", "align": "left", "baseline": "middle", "fontSize": 11, "color": "#333333"},
          "encoding": {
            "x": {"field": "d", "type": "temporal",
              "scale": {"domain": [{"year":2008,"month":11,"date":19,"hours":11,"utc":true},{"year":2010,"month":2,"date":4,"hours":7,"utc":true}]}, "axis": null},
            "y": {"field": "vol", "type": "quantitative", "axis": null},
            "text": {"field": "t"}
          }
        },
        {
          "data": {"name": "last"},
          "mark": {"type": "rect", "fill": "#f2c21b", "stroke": "#9a7a10", "strokeWidth": 1},
          "encoding": {
            "x": {"datum": {"year":2010,"month":2,"date":5,"hours":14,"utc":true}, "type": "temporal", "axis": null},
            "x2": {"datum": {"year":2010,"month":3,"date":7,"utc":true}},
            "y": {"datum": 7900000, "type": "quantitative", "axis": null},
            "y2": {"datum": 2000000}
          }
        },
        {
          "data": {"name": "last"},
          "mark": {"type": "text", "align": "center", "baseline": "middle", "fontSize": 8, "fontWeight": "bold", "color": "#222222"},
          "encoding": {
            "x": {"datum": {"year":2010,"month":2,"date":20,"utc":true}, "type": "temporal", "axis": null},
            "y": {"datum": 6600000, "type": "quantitative", "axis": null},
            "text": {"field": "t"}
          }
        },
        {
          "data": {"name": "last"},
          "mark": {"type": "point", "shape": "triangle-right", "filled": true, "size": 45, "color": "#c0392b", "opacity": 1},
          "encoding": {
            "x": {"datum": {"year":2010,"month":2,"date":1,"utc":true}, "type": "temporal", "axis": null},
            "y": {"datum": 7200000, "type": "quantitative", "axis": null}
          }
        }
      ]
    }
  ]
}
